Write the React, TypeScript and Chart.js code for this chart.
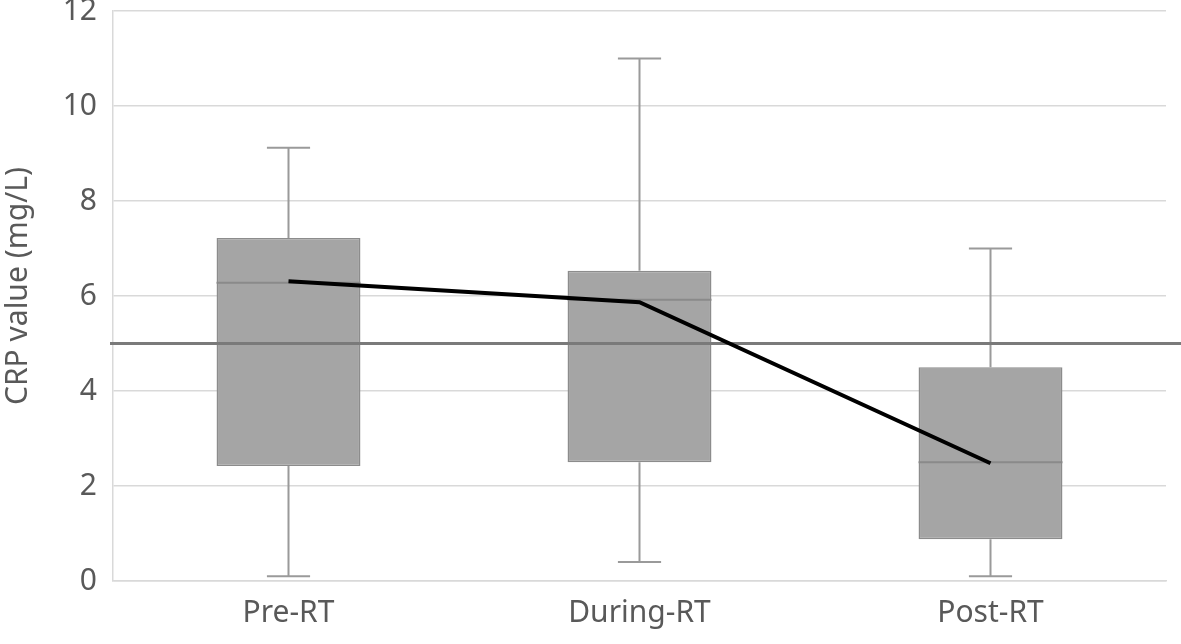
import React, { useEffect, useRef } from "react";
import { Chart, registerables } from "chart.js";

Chart.register(...registerables);

const categories = ["Pre-RT", "During-RT", "Post-RT"];
const minValues = [0.1, 0.4, 0.1];
const q1Values = [2.42, 2.5, 0.88];
const medianValues = [6.28, 5.92, 2.5];
const q3Values = [7.22, 6.53, 4.5];
const maxValues = [9.12, 11.0, 7.0];
const trendValues = [6.31, 5.87, 2.48];
const referenceValue = 5;
const yMin = 0;
const yMax = 12;
const yStep = 2;
const yTitle = "CRP value (mg/L)";

const FONT = "'Noto Sans', 'Open Sans', sans-serif";

const boxPlugin = {
  id: "boxExtras",
  afterDatasetDraw(chart: any, args: any) {
    if (args.index !== 0) return;
    const ctx = chart.ctx;
    const y = chart.scales.y;
    const meta = chart.getDatasetMeta(0);
    ctx.save();
    meta.data.forEach((bar: any, i: number) => {
      const cx = bar.x;
      const w = bar.width;
      const capW = w * 0.3;
      ctx.strokeStyle = "#9a9a9a";
      ctx.lineWidth = 2;
      ctx.beginPath();
      ctx.moveTo(cx, y.getPixelForValue(q3Values[i]));
      ctx.lineTo(cx, y.getPixelForValue(maxValues[i]));
      ctx.moveTo(cx, y.getPixelForValue(q1Values[i]));
      ctx.lineTo(cx, y.getPixelForValue(minValues[i]));
      ctx.moveTo(cx - capW / 2, y.getPixelForValue(maxValues[i]));
      ctx.lineTo(cx + capW / 2, y.getPixelForValue(maxValues[i]));
      ctx.moveTo(cx - capW / 2, y.getPixelForValue(minValues[i]));
      ctx.lineTo(cx + capW / 2, y.getPixelForValue(minValues[i]));
      ctx.stroke();
      ctx.strokeStyle = "#8a8a8a";
      ctx.lineWidth = 2;
      ctx.beginPath();
      const my = y.getPixelForValue(medianValues[i]);
      ctx.moveTo(cx - w / 2, my);
      ctx.lineTo(cx + w / 2, my);
      ctx.stroke();
    });
    const ry = y.getPixelForValue(referenceValue);
    ctx.strokeStyle = "#7a7a7a";
    ctx.lineWidth = 3;
    ctx.beginPath();
    ctx.moveTo(chart.chartArea.left - 3, ry);
    ctx.lineTo(chart.width, ry);
    ctx.stroke();
    ctx.restore();
  },
  afterDraw(chart: any) {
    const ctx = chart.ctx;
    const area = chart.chartArea;
    ctx.save();
    ctx.translate(18, (area.top + area.bottom) / 2 - 10);
    ctx.rotate(-Math.PI / 2);
    ctx.fillStyle = "#595959";
    ctx.font = `30px ${FONT}`;
    ctx.textAlign = "center";
    ctx.textBaseline = "middle";
    ctx.fillText(yTitle, 0, 0);
    ctx.restore();
  },
};

export default function App() {
  const ref = useRef<HTMLCanvasElement>(null);
  useEffect(() => {
    document.body.style.margin = "0";
    const chart = new Chart(ref.current!, {
      type: "bar",
      data: {
        labels: categories,
        datasets: [
          {
            type: "bar",
            data: q1Values.map((q, i) => [q, q3Values[i]]) as any,
            backgroundColor: "#a5a5a5",
            borderColor: "#8c8c8c",
            borderWidth: 1.5,
            borderSkipped: false,
            barPercentage: 0.41,
            categoryPercentage: 1,
            order: 1,
          },
          {
            type: "line",
            data: trendValues,
            borderColor: "#000000",
            borderWidth: 4,
            pointRadius: 0,
            fill: false,
            tension: 0,
            order: 0,
          } as any,
        ],
      },
      options: {
        responsive: false,
        animation: false,
        layout: { padding: { top: 11, right: 15, left: 0, bottom: 0 } },
        plugins: { legend: { display: false }, tooltip: { enabled: false } },
        scales: {
          x: {
            grid: { display: false },
            border: { display: true, color: "#d9d9d9", width: 1.5 },
            ticks: { color: "#595959", font: { family: FONT, size: 30 }, padding: 6 },
            afterFit: (s: any) => { s.height = 63; },
          },
          y: {
            min: yMin,
            max: yMax,
            ticks: { stepSize: yStep, color: "#595959", font: { family: FONT, size: 30, lineHeight: 0.01 }, padding: 10 },
            grid: { color: "#d9d9d9", lineWidth: 1.5, drawTicks: true, tickLength: 6, tickColor: "rgba(0,0,0,0)" },
            border: { display: true, color: "#d9d9d9", width: 1.5 },
            title: { display: false },
            afterFit: (s: any) => { s.width = 113; },
          },
        },
      },
      plugins: [boxPlugin],
    });
    return () => chart.destroy();
  }, []);
  return (
    <div style={{ width: 1181, height: 644 }}>
      <canvas ref={ref} width={1181} height={644} style={{ display: "block" }} />
    </div>
  );
}
